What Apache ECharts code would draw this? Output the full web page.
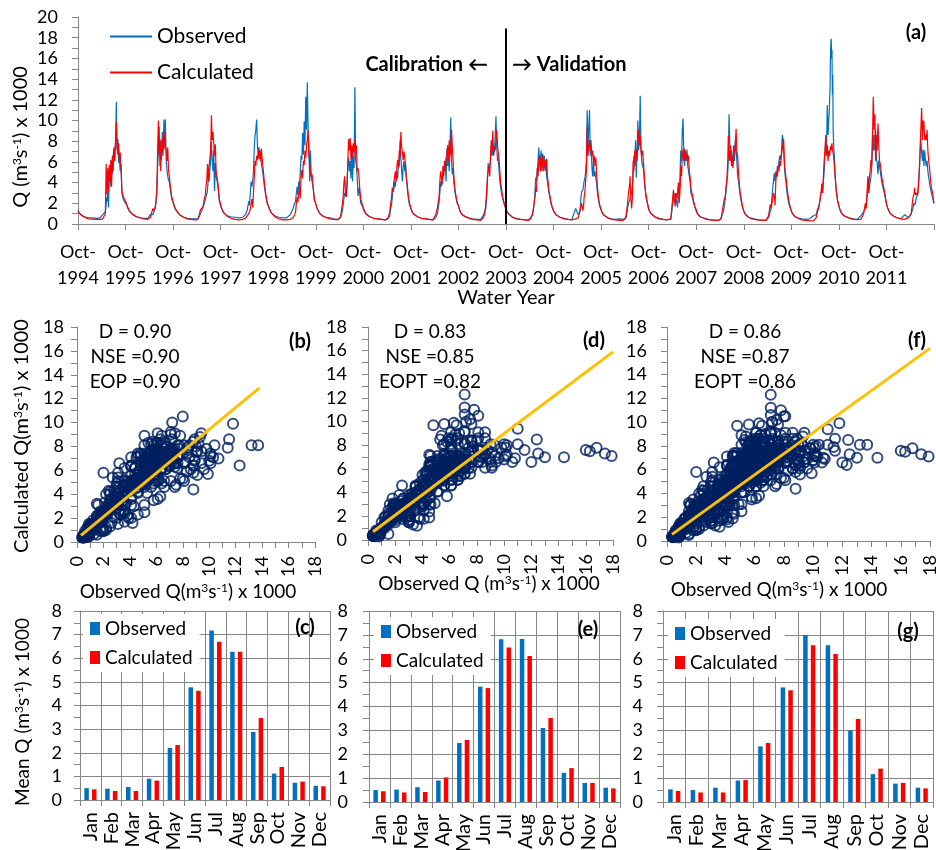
<!DOCTYPE html>
<html><head><meta charset="utf-8">
<script src="https://cdn.jsdelivr.net/npm/echarts@6/dist/echarts.min.js"></script>
<style>html,body{margin:0;padding:0;background:#fff}#c{width:936px;height:850px}</style>
</head><body><div id="c"></div>
<script>
// ---------- DATA ----------
// sampling days within each water year (day 0 = 1 October)
const sampleDays = [0,8,18,30,50,80,110,140,170,190,203,210,216,222,228,234,240,246,252,258,264,270,276,282,288,294,300,306,312,318,324,330,337,345,355,364];
// extra high-flow-season sampling days
const extraDays = [213,219,225,231,237,243,249,255,261,267,273,279,285,291,297,303,309,315,321,327];
const firstTickYear = 1994;          // Oct-1994 = start of water year 1995
const calibrationYears = 9;          // WY1995-2003 calibration, WY2004-2012 validation
// observed flow (m3/s x 1000), one row per water year 1995..2012
const observedQ = [
[1.3,1.1,0.95,0.85,0.7,0.6,0.6,0.55,0.6,0.9,0.8,1.2,2.0,2.6,3.1,1.6,4.4,5.3,3.6,6.1,4.8,6.6,7.2,6.3,7.7,11.8,7.1,8.2,5.9,6.4,5.1,5.8,3.0,2.5,2.2,2.0],
[2.2,1.8,1.5,1.2,0.95,0.7,0.6,0.55,0.55,0.9,0.8,0.9,1.0,1.3,1.6,2.2,3.1,5.4,7.2,9.4,5.6,8.1,6.2,8.9,6.6,10.1,7.8,10.1,6.1,5.2,4.6,4.3,4.0,3.2,2.4,2.1],
[2.1,1.7,1.4,1.2,0.9,0.65,0.55,0.5,0.5,0.5,0.8,1.0,1.2,1.1,1.5,1.8,2.0,2.3,2.6,2.9,3.1,4.6,4.1,5.2,6.1,8.0,6.4,5.1,7.1,3.2,5.9,4.6,4.2,3.5,2.2,1.8],
[1.8,1.5,1.2,1.0,0.8,0.7,0.65,0.6,0.65,0.9,1.3,1.8,2.2,1.8,3.1,4.1,3.6,4.2,5.1,7.4,8.6,9.1,10.1,7.6,6.9,7.4,6.3,6.7,5.9,5.4,4.9,4.2,3.5,2.8,2.1,1.8],
[1.8,1.5,1.2,1.0,0.8,0.65,0.6,0.6,0.9,1.5,2.0,2.2,3.0,3.6,2.8,4.1,3.4,5.1,6.6,6.2,8.8,6.7,9.9,7.6,12.3,9.1,13.7,9.4,7.4,4.1,7.1,4.6,4.5,3.5,2.2,2.0],
[2.0,1.6,1.3,1.0,0.8,0.65,0.6,0.5,0.45,0.6,1.2,1.8,2.5,3.0,2.7,3.2,4.1,5.6,6.4,5.1,6.1,4.4,7.2,4.1,6.6,5.4,13.2,6.1,5.6,4.4,2.7,3.5,3.0,2.0,1.8,1.5],
[1.5,1.2,1.0,0.85,0.7,0.55,0.5,0.45,0.4,0.5,0.8,1.5,1.8,2.5,3.4,3.1,4.1,3.6,4.6,5.1,4.4,6.1,5.6,8.1,6.4,5.1,4.1,5.6,6.1,5.1,5.9,4.5,3.5,2.5,1.8,1.5],
[1.5,1.2,1.0,0.85,0.7,0.55,0.5,0.45,0.4,0.6,1.0,1.5,2.0,3.0,4.1,3.6,4.1,4.6,5.1,5.6,6.1,4.1,7.3,5.6,6.4,5.1,7.4,10.3,6.1,4.8,5.4,4.0,3.2,2.6,2.0,1.8],
[1.8,1.4,1.1,0.9,0.75,0.6,0.5,0.45,0.45,0.8,1.3,1.5,2.5,4.0,5.9,5.1,5.6,6.1,7.6,6.6,7.1,7.6,6.9,8.5,10.4,7.4,6.1,6.4,5.1,4.1,3.5,3.0,2.6,2.2,1.8,1.5],
[1.5,1.2,1.0,0.85,0.65,0.55,0.45,0.42,0.4,0.6,1.0,1.3,2.0,3.0,4.5,4.1,5.1,6.1,7.4,5.6,6.2,7.1,5.4,6.8,5.1,6.6,5.2,5.6,4.6,4.1,3.5,3.0,2.6,2.0,1.6,1.3],
[1.3,1.1,0.9,0.8,0.65,0.55,0.45,0.42,1.5,0.9,1.2,2.5,3.1,3.0,3.6,4.1,4.0,5.1,6.1,11.0,7.6,9.1,11.0,6.6,8.1,5.6,4.6,6.1,4.6,5.1,4.5,4.0,3.0,2.3,1.7,1.4],
[1.4,1.1,0.9,0.75,0.6,0.5,0.45,0.5,0.45,0.6,1.5,2.0,2.0,2.5,2.8,3.0,3.1,5.1,6.6,5.6,8.1,4.5,7.1,10.0,7.1,8.1,12.4,7.2,6.1,5.6,5.4,4.5,3.5,2.5,2.0,1.5],
[1.5,1.2,1.0,0.85,0.7,0.55,0.45,0.42,0.45,2.5,3.0,2.5,2.0,1.6,3.5,3.0,4.5,7.1,6.1,9.0,10.2,6.6,5.6,7.1,6.1,7.2,5.6,5.1,4.6,4.1,3.0,2.8,2.5,2.0,1.6,1.3],
[1.3,1.0,0.85,0.7,0.6,0.5,0.4,0.38,0.35,0.5,1.0,1.3,1.8,2.5,3.0,4.0,4.5,6.1,10.6,7.6,6.2,7.1,5.6,6.6,7.6,6.1,8.1,7.1,6.1,4.6,4.5,3.5,2.8,2.2,1.6,1.3],
[1.3,1.0,0.85,0.7,0.6,0.5,0.4,0.38,0.35,0.6,1.2,1.5,2.5,3.5,4.1,4.9,4.1,5.1,4.6,5.6,5.1,6.1,6.6,6.2,6.7,8.2,8.3,7.1,5.6,4.6,4.0,3.2,2.6,2.0,1.6,1.3],
[1.3,1.0,0.85,0.7,0.6,0.5,0.45,0.5,0.8,0.9,1.5,1.5,2.0,2.5,3.0,3.5,3.0,4.1,5.1,6.6,8.1,7.1,11.5,8.6,10.1,12.0,16.3,17.9,16.8,14.4,8.1,6.6,4.5,3.2,2.2,1.8],
[1.8,1.4,1.1,0.9,0.75,0.6,0.5,0.45,0.8,1.2,1.5,2.0,2.5,3.5,3.0,3.5,4.1,4.6,5.6,9.0,7.1,8.6,7.1,9.1,6.6,5.9,4.8,6.1,5.6,5.1,4.5,4.0,3.6,3.2,2.6,2.0],
[2.0,1.6,1.3,1.0,0.8,0.6,0.5,0.9,0.6,1.0,1.5,2.0,1.8,2.0,2.5,2.5,3.0,4.1,5.1,6.6,8.1,7.1,6.1,7.2,5.6,7.1,6.2,5.6,6.1,5.1,4.5,4.0,3.5,3.0,2.5,2.0]
];
// observed flow at extraDays, one row per water year 1995..2012
const observedQExtra = [
[1.5,2.4,2.2,2.5,3.2,4.9,4.4,5.2,5.5,5.9,7.0,6.8,7.1,9.3,8.8,7.6,6.9,6.2,5.6,5.3],
[0.95,1.2,1.4,1.9,2.6,4.2,6.3,8.5,7.3,6.9,7.0,7.6,7.7,8.4,9.0,9.2,8.0,5.7,4.9,4.4],
[1.1,1.15,1.3,1.6,1.9,2.2,2.4,2.8,3.0,3.8,4.3,4.7,5.6,7.2,7.1,5.7,6.0,4.8,4.5,5.2],
[2.0,2.0,2.5,3.6,3.8,3.9,4.6,6.3,8.0,8.8,9.6,8.8,7.2,7.1,6.8,6.5,6.3,5.6,5.1,4.5],
[2.6,3.3,3.2,3.5,3.7,4.3,5.8,6.4,7.5,7.8,8.3,8.8,10.0,10.7,11.4,11.5,8.4,5.8,5.6,5.8],
[2.1,2.8,2.9,3.0,3.6,4.8,6.0,5.8,5.6,5.3,5.8,5.7,5.3,6.0,9.0,9.8,5.9,5.0,3.6,3.1],
[1.6,2.2,3.0,3.2,3.6,3.8,4.1,4.9,4.7,5.3,5.8,6.9,7.2,5.8,4.6,4.8,5.9,5.6,5.5,5.2],
[1.8,2.5,3.5,3.8,3.9,4.3,4.8,5.4,5.8,5.0,5.7,6.4,6.0,5.8,6.2,8.9,8.1,5.4,5.1,4.7],
[2.0,3.2,4.9,5.5,5.3,5.8,6.8,7.1,6.8,7.3,7.2,7.7,9.4,8.9,6.7,6.2,5.7,4.6,3.8,3.2],
[1.6,2.5,3.8,4.3,4.6,5.6,6.8,6.5,5.9,6.7,6.2,6.1,5.9,5.8,5.9,5.4,5.1,4.3,3.8,3.2],
[2.8,3.0,3.3,3.8,4.0,4.6,5.6,8.6,9.3,8.3,10.1,8.8,7.4,6.8,5.1,5.3,5.4,4.9,4.8,4.2],
[2.0,2.3,2.6,2.9,3.1,4.1,5.8,6.1,6.8,6.3,5.8,8.5,8.6,7.6,10.2,9.8,6.6,5.8,5.5,4.9],
[2.2,1.8,2.6,3.2,3.7,5.8,6.6,7.5,9.6,8.4,6.1,6.3,6.6,6.6,6.4,5.4,4.8,4.3,3.5,2.9],
[1.5,2.1,2.8,3.5,4.3,5.3,8.4,9.1,6.9,6.6,6.3,6.1,7.1,6.8,7.1,7.6,6.6,5.3,4.5,4.0],
[2.0,3.0,3.8,4.5,4.5,4.6,4.8,5.1,5.3,5.6,6.3,6.4,6.5,7.5,8.6,7.7,6.3,5.1,4.3,3.6],
[1.8,2.2,2.8,3.2,3.2,3.6,4.6,5.8,7.4,7.6,9.3,10.0,9.4,10.8,13.0,17.4,16.0,12.5,9.0,7.2],
[2.2,3.0,3.2,3.3,3.8,4.3,5.0,7.1,8.1,7.8,7.6,8.0,7.8,6.1,5.3,5.4,5.8,5.3,4.8,4.2],
[1.9,1.9,2.2,2.5,2.8,3.5,4.6,5.8,7.6,7.5,6.5,6.7,6.3,6.4,6.5,5.8,5.9,5.5,4.8,4.3]
];
// calculated flow (m3/s x 1000), one row per water year 1995..2012
const calculatedQ = [
[1.25,1.05,0.9,0.8,0.65,0.5,0.48,0.45,0.45,0.5,0.6,1.0,5.8,2.9,5.4,3.1,5.7,4.1,6.2,3.6,6.6,5.1,7.4,6.1,8.1,9.9,7.6,6.7,7.8,6.2,6.9,5.6,3.2,2.8,2.4,2.2],
[2.3,1.9,1.6,1.3,1.0,0.75,0.6,0.5,0.45,0.6,1.2,1.5,1.2,1.4,1.6,2.3,3.3,7.1,10.0,6.6,8.2,5.1,7.6,6.9,8.4,7.2,8.9,7.4,7.1,6.1,7.4,5.2,4.5,3.5,2.6,2.2],
[2.2,1.8,1.5,1.2,0.9,0.65,0.5,0.45,0.4,0.45,1.0,1.4,1.5,1.3,1.6,2.0,2.5,2.7,3.6,4.1,5.8,4.2,5.6,6.3,7.1,10.5,8.1,8.9,7.8,6.6,7.7,5.1,4.6,3.8,2.4,1.9],
[1.9,1.5,1.2,1.0,0.75,0.55,0.45,0.4,0.45,0.55,0.7,0.9,1.0,1.2,1.5,2.0,2.4,1.6,3.1,4.6,6.1,5.6,6.6,6.2,7.2,6.3,7.1,6.1,7.3,6.4,5.6,4.8,3.8,3.0,2.2,1.8],
[1.8,1.5,1.2,1.0,0.7,0.5,0.4,0.4,0.45,0.6,0.9,1.2,2.0,2.6,2.1,3.1,3.4,2.5,4.6,5.2,4.4,6.1,5.7,7.1,6.4,7.6,8.1,9.1,6.6,6.3,5.1,4.6,4.8,3.5,2.3,2.0],
[2.0,1.6,1.3,1.05,0.8,0.6,0.5,0.45,0.4,0.7,1.8,2.6,4.0,4.6,3.0,2.6,3.6,6.1,8.2,7.1,8.3,6.2,7.6,6.4,7.8,6.9,8.1,7.4,7.6,5.1,5.4,4.8,3.5,2.5,2.0,1.6],
[1.6,1.3,1.05,0.85,0.7,0.55,0.5,0.45,0.4,0.6,1.2,2.0,2.5,3.5,3.1,4.1,4.6,5.1,4.1,5.6,6.2,5.4,7.1,6.6,8.9,7.4,7.1,6.2,7.0,6.4,5.6,4.5,3.8,2.8,2.0,1.6],
[1.6,1.25,1.0,0.85,0.7,0.55,0.5,0.45,0.4,0.9,1.5,2.2,2.5,4.0,5.1,4.6,3.8,5.6,4.6,6.1,5.1,6.4,6.6,7.6,6.1,8.1,6.6,7.1,9.1,7.4,6.1,4.5,3.5,2.8,2.1,1.8],
[1.8,1.4,1.1,0.9,0.7,0.55,0.45,0.4,0.35,0.6,1.0,2.0,3.0,4.5,5.1,5.6,4.6,6.6,8.1,7.1,9.0,6.6,7.4,7.1,8.1,9.1,7.6,6.9,6.1,5.1,4.0,3.5,2.8,2.3,1.8,1.5],
[1.5,1.2,1.0,0.85,0.65,0.5,0.45,0.4,0.35,0.5,0.9,1.5,2.0,2.5,3.6,3.1,5.4,4.6,6.1,6.6,5.1,6.4,5.1,6.6,6.1,5.6,6.2,5.1,6.3,4.6,4.0,3.2,2.7,2.1,1.6,1.3],
[1.3,1.1,0.9,0.8,0.65,0.5,0.45,0.4,0.5,0.6,1.3,1.8,2.0,1.5,1.2,2.5,3.0,4.1,5.1,9.4,6.6,7.4,8.1,7.1,7.6,6.6,7.1,6.1,6.6,5.6,6.4,5.0,3.5,2.5,1.8,1.4],
[1.4,1.1,0.9,0.75,0.6,0.45,0.4,0.35,0.35,0.6,2.0,3.0,3.0,4.6,2.5,1.5,2.5,6.1,5.1,7.1,6.6,7.2,6.1,8.1,9.1,7.6,8.5,7.1,6.6,7.1,6.1,5.0,3.5,2.8,2.1,1.5],
[1.5,1.2,1.0,0.85,0.65,0.5,0.45,0.4,0.5,3.3,1.7,3.0,2.5,3.0,4.0,2.0,1.9,5.6,4.6,6.6,7.2,6.1,7.3,6.2,6.6,6.8,6.1,6.6,5.1,4.6,3.5,3.2,2.7,2.2,1.7,1.4],
[1.3,1.0,0.85,0.7,0.6,0.45,0.4,0.35,0.35,0.5,1.5,2.0,2.5,2.2,3.5,4.0,4.1,8.5,6.6,6.1,7.6,5.6,6.6,5.4,6.6,7.1,7.6,9.2,7.1,6.6,5.1,4.0,3.0,2.5,1.7,1.3],
[1.3,1.0,0.85,0.7,0.55,0.45,0.4,0.35,0.35,0.8,1.9,1.5,2.0,2.5,3.0,3.1,1.8,4.1,5.1,4.6,5.6,5.1,6.1,5.6,6.6,7.1,7.6,8.2,6.1,5.1,4.5,3.8,3.0,2.3,1.7,1.3],
[1.3,1.0,0.85,0.7,0.55,0.4,0.35,0.32,0.3,0.6,1.3,1.5,2.0,2.5,3.0,3.9,3.0,4.6,6.1,7.1,8.6,6.6,7.6,6.1,7.1,6.6,7.5,7.1,7.8,7.0,6.6,6.5,4.5,3.2,2.3,1.8],
[1.8,1.4,1.1,0.9,0.7,0.55,0.45,0.42,0.45,1.0,2.0,1.5,3.0,4.6,3.0,4.5,5.1,6.2,5.6,8.1,12.3,9.1,10.6,6.1,8.6,7.1,9.7,7.6,6.1,6.2,5.1,4.5,4.0,3.5,2.8,2.0],
[2.0,1.6,1.3,1.0,0.8,0.6,0.5,0.45,0.6,1.0,2.5,2.6,3.5,2.8,3.0,3.0,2.8,3.6,5.1,7.1,9.1,11.2,8.1,10.0,9.8,8.1,8.6,8.1,9.1,7.1,6.2,5.5,4.5,3.5,3.0,2.0]
];
// calculated flow at extraDays, one row per water year 1995..2012
const calculatedQExtra = [
[3.2,4.3,4.0,4.2,4.6,4.8,5.3,4.8,5.4,5.9,6.3,6.8,7.3,8.8,8.4,7.1,7.3,6.9,6.5,6.0],
[1.3,1.3,1.5,1.9,2.8,5.0,8.6,8.1,7.5,6.4,6.5,7.2,7.8,7.7,8.0,8.2,7.3,6.6,6.8,6.2],
[1.45,1.4,1.5,1.8,2.2,2.6,3.1,3.9,4.9,5.0,4.9,5.9,6.7,8.6,9.2,8.4,8.3,7.2,7.1,6.4],
[0.95,1.1,1.3,1.7,2.2,2.0,2.3,3.8,5.3,5.8,6.1,6.4,6.7,6.8,6.7,6.6,6.7,6.8,6.0,5.2],
[1.6,2.3,2.4,2.6,3.2,3.0,3.5,4.9,4.8,5.3,5.9,6.4,6.8,7.0,7.9,8.6,7.9,6.4,5.7,4.9],
[3.3,4.3,3.8,2.8,3.1,4.8,7.2,7.7,7.7,7.3,6.9,7.0,7.1,7.4,7.5,7.8,7.5,6.3,5.2,5.1],
[2.2,3.0,3.3,3.6,4.3,4.8,4.6,4.8,5.9,5.8,6.3,6.8,7.8,8.1,7.2,6.6,6.6,6.7,6.0,5.0],
[2.3,3.2,4.6,4.8,4.2,4.7,5.1,5.3,5.6,5.8,6.5,7.1,6.9,7.1,7.3,6.8,8.1,8.3,6.8,5.3],
[2.5,3.7,4.8,5.3,5.1,5.6,7.3,7.6,8.0,7.8,7.0,7.3,7.6,8.6,8.3,7.2,6.5,5.6,4.5,3.7],
[1.7,2.3,3.0,3.3,4.2,5.0,5.4,6.4,5.8,5.8,5.7,5.9,6.3,5.8,5.9,5.6,5.7,5.4,4.3,3.6],
[1.9,1.7,1.3,1.8,2.8,3.6,4.6,7.2,8.0,7.0,7.8,7.6,7.4,7.1,6.8,6.6,6.4,6.1,6.0,5.7],
[3.0,3.8,3.5,2.0,2.0,4.3,5.6,6.1,6.8,6.9,6.6,7.1,8.6,8.4,8.0,7.8,6.9,6.8,6.6,5.6],
[2.7,2.8,3.5,3.0,1.9,3.7,5.1,5.6,6.9,6.6,6.7,6.7,6.4,6.7,6.4,6.3,5.8,4.8,4.0,3.3],
[2.2,2.3,2.9,3.8,4.0,6.3,7.6,6.3,6.8,6.6,6.1,6.0,6.0,6.8,7.3,8.4,8.1,6.8,5.8,4.6],
[1.7,2.2,2.8,3.0,2.4,3.0,4.6,4.8,5.1,5.3,5.6,5.8,6.1,6.8,7.3,7.9,7.1,5.6,4.8,4.1],
[1.7,2.2,2.8,3.4,3.5,3.8,5.4,6.6,7.8,7.5,7.1,6.8,6.6,6.9,7.0,7.3,7.6,7.3,6.8,6.5],
[2.3,3.8,3.9,3.6,4.8,5.6,5.9,6.8,10.5,11.0,9.8,8.4,7.4,7.9,8.5,8.8,6.9,6.1,5.6,4.8],
[3.0,3.1,2.9,3.0,2.9,3.2,4.3,6.1,8.3,10.2,9.7,9.0,9.9,8.9,8.4,8.3,8.6,8.0,6.6,5.8]
];
// monthly means (m3/s x 1000)
const months = ['Jan','Feb','Mar','Apr','May','Jun','Jul','Aug','Sep','Oct','Nov','Dec'];
const monthlyObsCal  = [0.50,0.48,0.55,0.90,2.20,4.77,7.17,6.27,2.88,1.12,0.73,0.60];
const monthlyCalcCal = [0.45,0.38,0.38,0.82,2.33,4.62,6.70,6.27,3.47,1.40,0.78,0.58];
const monthlyObsVal  = [0.50,0.52,0.62,0.90,2.47,4.83,6.82,6.83,3.10,1.22,0.80,0.60];
const monthlyCalcVal = [0.45,0.40,0.42,1.03,2.60,4.77,6.47,6.12,3.52,1.42,0.80,0.57];
const monthlyObsAll  = [0.53,0.50,0.60,0.90,2.33,4.80,7.00,6.57,3.00,1.17,0.77,0.60];
const monthlyCalcAll = [0.46,0.40,0.40,0.92,2.47,4.68,6.57,6.20,3.48,1.40,0.80,0.57];
// scatter x tick labels
const scatterTicks = [0,2,4,6,8,10,12,14,16,18];
// fitted lines in the scatter panels [observed, calculated]
const trendCal = [[0.3,0.55],[13.8,12.9]];
const trendVal = [[0.37,0.7],[18,15.9]];
const trendAll = [[0.34,0.56],[18,16.2]];
// statistics text
const statsCal = ['D = 0.90','NSE =0.90','EOP =0.90'];
const statsVal = ['D = 0.83','NSE =0.85','EOPT =0.82'];
const statsAll = ['D = 0.86','NSE =0.87','EOPT =0.86'];
const splitYear = 9; // Oct-2003 marks calibration / validation split

// ---------- BUILD ----------
const GRAY = '#868686', FONT = 'Lato', BLUE = '#0070C0', RED = '#FF0000', NAVY = '#002060', GOLD = '#FFC000';
function yearRecords(main, extra, i){
  const rec=[];
  for(let k=0;k<sampleDays.length;k++)rec.push([sampleDays[k],main[i][k]]);
  for(let k=0;k<extraDays.length;k++)rec.push([extraDays[k],extra[i][k]]);
  rec.sort((a,b)=>a[0]-b[0]);
  return rec;
}
function timeSeries(main, extra){const out=[];for(let i=0;i<main.length;i++)yearRecords(main,extra,i).forEach(r=>out.push([i+r[0]/365,r[1]]));return out;}
function pairs(y0,y1){const out=[];for(let i=y0;i<y1;i++){
  const o=yearRecords(observedQ,observedQExtra,i), c=yearRecords(calculatedQ,calculatedQExtra,i);
  for(let k=0;k<o.length;k++)out.push([o[k][1],c[k][1]]);}return out;}

const lineAx = (extra)=>Object.assign({
  axisLine:{show:true,onZero:false,lineStyle:{color:GRAY,width:1}},
  axisTick:{show:true,length:6,lineStyle:{color:GRAY}},
  splitLine:{show:false}
},extra);
const lbl = (extra)=>Object.assign({color:'#000',fontFamily:FONT,fontSize:18},extra);
const minor = {show:true,splitNumber:2,length:6,lineStyle:{color:GRAY}};

const grids = [
 {left:78,top:17,width:856,height:207},
 {left:77,top:327,width:238,height:215},
 {left:368,top:327,width:245,height:213},
 {left:667,top:327,width:263,height:214},
 {left:80,top:611,width:250,height:189},
 {left:369,top:611,width:251,height:191},
 {left:663,top:611,width:270,height:191}
].map(g=>Object.assign({containLabel:false,outerBoundsMode:'none'},g));

const xAxes=[], yAxes=[];
xAxes.push(lineAx({type:'value',gridIndex:0,min:0,max:18,interval:1,
  axisLabel:lbl({margin:15,lineHeight:26,formatter:v=>v<18?('Oct-\n'+(firstTickYear+v)):''})}));
yAxes.push(lineAx({type:'value',gridIndex:0,min:0,max:20,interval:2,minorTick:minor,axisLabel:lbl({margin:20})}));
const scMargins=[13,21,20];
for(let j=0;j<3;j++){
  xAxes.push(lineAx({type:'value',gridIndex:1+j,position:'bottom',min:0,max:18,interval:2,minorTick:minor,axisLabel:{show:false}}));
  yAxes.push(lineAx({type:'value',gridIndex:1+j,min:0,max:18,interval:2,minorTick:minor,axisLabel:lbl({margin:scMargins[j]})}));
}
const barMargins=[18,21,20];
for(let j=0;j<3;j++){
  xAxes.push({type:'category',gridIndex:4+j,data:months,
    axisLine:{show:true,lineStyle:{color:GRAY}},
    axisTick:{show:true,interval:0,length:6,lineStyle:{color:GRAY}},
    splitLine:{show:true,interval:0,lineStyle:{color:GRAY,width:1}},
    axisLabel:lbl({rotate:90,margin:12,interval:0,fontSize:20})});
  yAxes.push({type:'value',gridIndex:4+j,min:0,max:8,interval:1,
    axisLine:{show:true,lineStyle:{color:GRAY}},
    axisTick:{show:true,length:6,lineStyle:{color:GRAY}},
    minorTick:minor,
    splitLine:{show:true,lineStyle:{color:GRAY,width:1}},
    axisLabel:lbl({margin:barMargins[j]})});
}

const series=[];
series.push({name:'Observed',type:'line',xAxisIndex:0,yAxisIndex:0,data:timeSeries(observedQ,observedQExtra),symbol:'none',
  lineStyle:{color:BLUE,width:1.2},itemStyle:{color:BLUE},z:2,
  markLine:{silent:true,symbol:['none','none'],label:{show:false},lineStyle:{color:'#000',width:2,type:'solid'},
    data:[[{coord:[splitYear,0]},{coord:[splitYear,18.9]}]]}});
series.push({name:'Calculated',type:'line',xAxisIndex:0,yAxisIndex:0,data:timeSeries(calculatedQ,calculatedQExtra),symbol:'none',
  lineStyle:{color:RED,width:1.2},itemStyle:{color:RED},z:3});
const scat=[pairs(0,calibrationYears),pairs(calibrationYears,observedQ.length),pairs(0,observedQ.length)];
const trends=[trendCal,trendVal,trendAll];
for(let j=0;j<3;j++){
  series.push({name:'scatter'+j,type:'scatter',xAxisIndex:1+j,yAxisIndex:1+j,data:scat[j],symbol:'circle',symbolSize:10,
    itemStyle:{color:'rgba(0,0,0,0)',borderColor:NAVY,borderWidth:2},z:2});
  series.push({name:'trend'+j,type:'line',xAxisIndex:1+j,yAxisIndex:1+j,data:trends[j],symbol:'none',
    lineStyle:{color:GOLD,width:3},z:4});
}
const barObs=[monthlyObsCal,monthlyObsVal,monthlyObsAll], barCalc=[monthlyCalcCal,monthlyCalcVal,monthlyCalcAll];
for(let j=0;j<3;j++){
  series.push({name:'Observed',type:'bar',xAxisIndex:4+j,yAxisIndex:4+j,data:barObs[j],barWidth:4.5,barGap:'70%',itemStyle:{color:BLUE}});
  series.push({name:'Calculated',type:'bar',xAxisIndex:4+j,yAxisIndex:4+j,data:barCalc[j],barWidth:4.5,barGap:'70%',itemStyle:{color:RED}});
}

const legends=[
  {left:110,top:26,orient:'vertical',padding:0,itemGap:15,itemWidth:42,itemHeight:2,icon:'rect',
   textStyle:{fontFamily:FONT,fontSize:21,color:'#000'},data:['Observed','Calculated'],selectedMode:false}
];
[[83,614],[374,617],[668,619]].forEach(p=>legends.push({left:p[0],top:p[1],orient:'vertical',padding:[5,7],itemGap:10,
  itemWidth:10,itemHeight:13,icon:'rect',backgroundColor:'#fff',
  textStyle:{fontFamily:FONT,fontSize:19,color:'#000'},data:['Observed','Calculated'],selectedMode:false}));

function T(x,y,text,o){o=o||{};return {type:'text',x:x,y:y,rotation:o.rot||0,z:100,
  style:{text:text,fill:'#000',fontFamily:FONT,fontSize:o.size||19,fontWeight:o.bold?'bold':'normal',
  align:o.align||'center',verticalAlign:'middle',rich:o.rich}};}
function unitText(pre,post,size){
  return {text:'{n|'+pre+'}{s|3}{n|s}{s|-1}{n|'+post+'}',
    rich:{n:{fontFamily:FONT,fontSize:size,fill:'#000'},s:{fontFamily:FONT,fontSize:Math.round(size*0.62),verticalAlign:'top',fill:'#000'}}};
}
function U(x,y,pre,post,size,rot){const u=unitText(pre,post,size);return T(x,y,u.text,{size:size,rot:rot,rich:u.rich});}

const R=Math.PI/2;
const graphics=[
  T(916,33,'(a)',{bold:true,size:20}),
  T(488,65,'Calibration \u2190',{bold:true,size:20,align:'right'}),
  T(512,65,'\u2192 Validation',{bold:true,size:20,align:'left'}),
  T(506,298,'Water Year',{size:20}),
  U(21,137,'Q (m',') x 1000',20,R),
  U(22,436,'Calculated Q(m',') x 1000',20,R),
  U(23,712,'Mean Q (m',') x 1000',19,R),
  U(188,592,'Observed Q(m',') x 1000',19,0),
  U(489,584,'Observed Q (m',') x 1000',19,0),
  U(779,590,'Observed Q(m',') x 1000',19,0),
  T(300,342,'(b)',{bold:true,size:20}),
  T(594,341,'(d)',{bold:true,size:20}),
  T(917,341,'(f)',{bold:true,size:20}),
  T(305,628,'(c)',{bold:true,size:20}),
  T(588,630,'(e)',{bold:true,size:20}),
  T(908,632,'(g)',{bold:true,size:20})
];
const statX=[135,430,745], statsAllPanels=[statsCal,statsVal,statsAll], statY=[332,357,382];
for(let j=0;j<3;j++)for(let r=0;r<3;r++)graphics.push(T(statX[j],statY[r],statsAllPanels[j][r],{size:19}));

const chart=echarts.init(document.getElementById('c'),null,{renderer:'canvas'});
chart.setOption({animation:false,backgroundColor:'#fff',textStyle:{fontFamily:FONT},
  grid:grids,xAxis:xAxes,yAxis:yAxes,series:series,legend:legends,graphic:graphics});
// rotated scatter x tick labels placed through the axes' own scales
const tickTexts=[];
for(let j=0;j<3;j++){
  const yBase=chart.convertToPixel({yAxisIndex:1+j},0);
  scatterTicks.forEach(v=>{
    const px=chart.convertToPixel({xAxisIndex:1+j},v);
    tickTexts.push(T(px,yBase+14,String(v),{size:18,rot:R,align:'right'}));
  });
}
chart.setOption({graphic:graphics.concat(tickTexts)});
</script></body></html>
